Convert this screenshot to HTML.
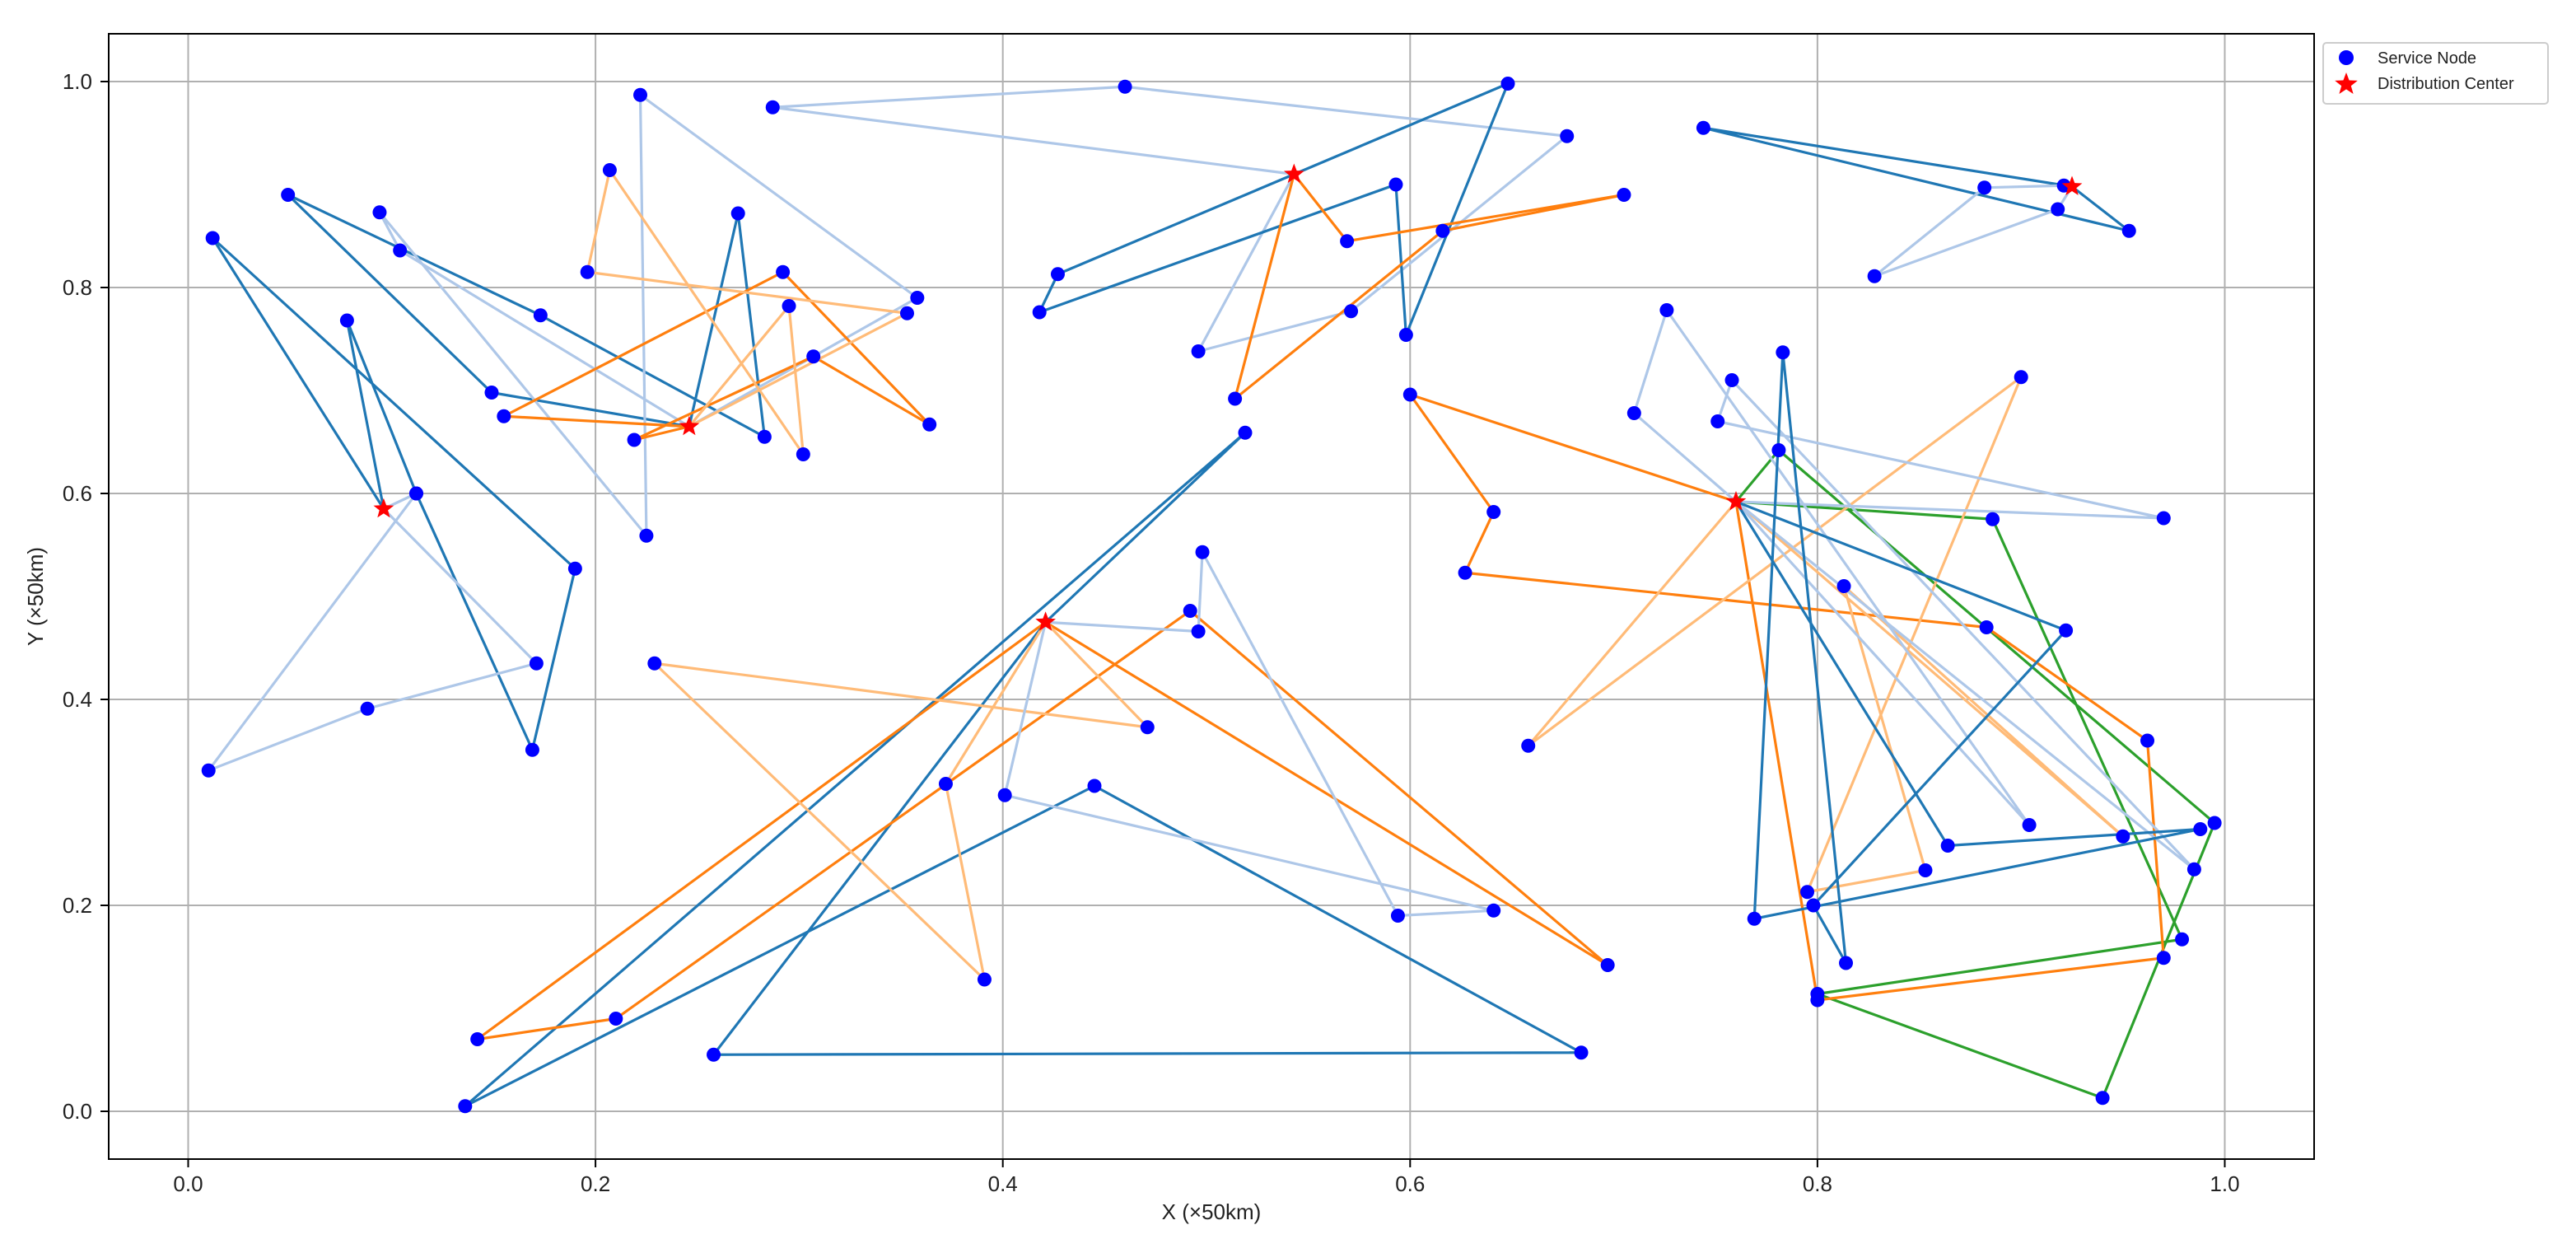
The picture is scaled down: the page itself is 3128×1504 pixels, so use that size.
<!DOCTYPE html>
<html><head><meta charset="utf-8"><style>
html,body{margin:0;padding:0;background:#fff;}
svg{display:block;font-family:"Liberation Sans","DejaVu Sans",sans-serif;}
</style></head><body>
<svg id="chart" width="3128" height="1504" viewBox="0 0 3128 1504" xmlns="http://www.w3.org/2000/svg">
<rect x="0" y="0" width="3128" height="1504" fill="#fff"/>
<g id="grid"></g>
<g id="routes"></g>
<g id="nodes"></g>
<g id="depots"></g>
<rect x="132" y="41" width="2678" height="1366" fill="none" stroke="#000" stroke-width="2"/>
<g id="ticks"></g>
<text x="1471" y="1480" font-size="26" text-anchor="middle" fill="#222">X (×50km)</text>
<text x="52" y="724" font-size="26" text-anchor="middle" fill="#222" transform="rotate(-90 52 724)">Y (×50km)</text>
<g>
<rect x="2821" y="52" width="273" height="74" rx="4" fill="#fff" stroke="#ccc" stroke-width="2"/>
<circle cx="2849" cy="70" r="9" fill="#0000ff"/>
<text x="2887" y="77" font-size="20" fill="#222">Service Node</text>
<polygon fill="#ff0000" points="2849,88 2852.6,97.5 2862.8,97.9 2854.8,104.2 2857.6,114 2849,108.4 2840.4,114 2843.2,104.2 2835.2,97.9 2845.4,97.5"/>
<text x="2887" y="108" font-size="20" fill="#222">Distribution Center</text>
</g>
</svg>
<script>
const xTicks = [0.0, 0.2, 0.4, 0.6, 0.8, 1.0];
const yTicks = [0.0, 0.2, 0.4, 0.6, 0.8, 1.0];
const tickLabels = ["0.0", "0.2", "0.4", "0.6", "0.8", "1.0"];
const depotX = [0.096, 0.246, 0.543, 0.925, 0.760, 0.421];
const depotY = [0.585, 0.665, 0.910, 0.898, 0.592, 0.475];
const routeColors = ["#1f77b4","#aec7e8","#1f77b4","#aec7e8","#ff7f0e","#ffbb78","#aec7e8","#1f77b4","#ff7f0e","#1f77b4","#aec7e8","#2ca02c","#ff7f0e","#ffbb78","#aec7e8","#aec7e8","#1f77b4","#1f77b4","#ff7f0e","#ffbb78","#aec7e8"];
const routeDepot = [0,0,1,1,1,1,2,2,2,3,3,4,4,4,4,4,4,5,5,5,5];
const routeX = [
 [0.078,0.112,0.169,0.190,0.012],
 [0.112,0.010,0.088,0.171],
 [0.149,0.049,0.173,0.283,0.270],
 [0.104,0.094,0.225,0.222,0.358],
 [0.155,0.292,0.364,0.307,0.219],
 [0.295,0.302,0.207,0.196,0.353],
 [0.287,0.460,0.677,0.571,0.496],
 [0.648,0.598,0.593,0.418,0.427],
 [0.514,0.616,0.705,0.569],
 [0.744,0.953],
 [0.921,0.882,0.828,0.918],
 [0.781,0.995,0.940,0.800,0.979,0.886],
 [0.800,0.970,0.962,0.883,0.627,0.641,0.600],
 [0.658,0.900,0.795,0.853,0.813,0.950],
 [0.710,0.726,0.904],
 [0.970,0.751,0.758,0.985],
 [0.922,0.798,0.814,0.783,0.769,0.988,0.864],
 [0.258,0.684,0.445,0.136,0.519],
 [0.142,0.210,0.492,0.697],
 [0.471,0.229,0.391,0.372],
 [0.496,0.498,0.594,0.641,0.401]
];
const routeY = [
 [0.768,0.600,0.351,0.527,0.848],
 [0.600,0.331,0.391,0.435],
 [0.698,0.890,0.773,0.655,0.872],
 [0.836,0.873,0.559,0.987,0.790],
 [0.675,0.815,0.667,0.733,0.652],
 [0.782,0.638,0.914,0.815,0.775],
 [0.975,0.995,0.947,0.777,0.738],
 [0.998,0.754,0.900,0.776,0.813],
 [0.692,0.855,0.890,0.845],
 [0.955,0.855],
 [0.899,0.897,0.811,0.876],
 [0.642,0.280,0.013,0.114,0.167,0.575],
 [0.108,0.149,0.360,0.470,0.523,0.582,0.696],
 [0.355,0.713,0.213,0.234,0.510,0.267],
 [0.678,0.778,0.278],
 [0.576,0.670,0.710,0.235],
 [0.467,0.200,0.144,0.737,0.187,0.274,0.258],
 [0.055,0.057,0.316,0.005,0.659],
 [0.070,0.090,0.486,0.142],
 [0.373,0.435,0.128,0.318],
 [0.466,0.543,0.190,0.195,0.307]
];
const NS="http://www.w3.org/2000/svg";
function sx(v){return 228.5+v*2473;}
function sy(v){return 1349-v*1250;}
function mk(t,a,p){const e=document.createElementNS(NS,t);for(const k in a)e.setAttribute(k,a[k]);p.appendChild(e);return e;}
const grid=document.getElementById('grid'),ticks=document.getElementById('ticks');
xTicks.forEach((v,i)=>{
 const g=mk('line',{x1:sx(v),x2:sx(v),y1:41,y2:1407,stroke:'#b0b0b0','stroke-width':2},grid);
 
 
 const t=mk('line',{x1:sx(v),x2:sx(v),y1:1407,y2:1417,stroke:'#000','stroke-width':2},ticks);
 
 
 const l=mk('text',{x:sx(v),y:1446,'font-size':26,'text-anchor':'middle',fill:'#222'},ticks);
 
 
 l.textContent=tickLabels[i];
});
yTicks.forEach((v,i)=>{
 const g=mk('line',{x1:132,x2:2810,y1:sy(v),y2:sy(v),stroke:'#b0b0b0','stroke-width':2},grid);
 
 
 const t=mk('line',{x1:122,x2:132,y1:sy(v),y2:sy(v),stroke:'#000','stroke-width':2},ticks);
 
 
 const l=mk('text',{x:112,y:sy(v)+9,'font-size':26,'text-anchor':'end',fill:'#222'},ticks);
 
 
 l.textContent=tickLabels[i];
});
const routes=document.getElementById('routes'),nodes=document.getElementById('nodes'),depots=document.getElementById('depots');
routeX.forEach((xs,r)=>{
 const d=routeDepot[r];
 const pts=[[depotX[d],depotY[d]]];
 xs.forEach((x,j)=>pts.push([x,routeY[r][j]]));
 pts.push([depotX[d],depotY[d]]);
 const pl=mk('polyline',{points:pts.map(p=>sx(p[0])+','+sy(p[1])).join(' '),fill:'none',stroke:routeColors[r],'stroke-width':3.2,'stroke-linejoin':'round'},routes);
 
 
});
routeX.forEach((xs,r)=>{
 xs.forEach((x,j)=>{
  const c=mk('circle',{cx:sx(x),cy:sy(routeY[r][j]),r:8.5,fill:'#0000ff'},nodes);
  
  
 });
});
depotX.forEach((x,i)=>{
 const cx=sx(x),cy=sy(depotY[i]),R=13,r2=5.5;let p=[];
 for(let k=0;k<10;k++){const a=-Math.PI/2+k*Math.PI/5,rr=k%2?r2:R;p.push((cx+rr*Math.cos(a)).toFixed(1)+','+(cy+rr*Math.sin(a)).toFixed(1));}
 const s=mk('polygon',{points:p.join(' '),fill:'#ff0000'},depots);
 
 
});
</script>
</body></html>
